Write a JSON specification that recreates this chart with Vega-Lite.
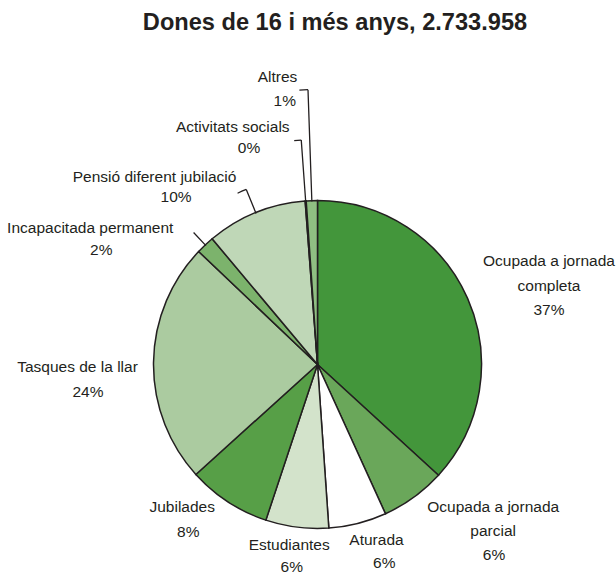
{
  "$schema": "https://vega.github.io/schema/vega-lite/v6.json",
  "width": 597,
  "height": 419,
  "autosize": "none",
  "padding": {"left": 19, "top": 155, "right": 0, "bottom": 0},
  "background": "white",
  "title": {
    "text": "Dones de 16 i més anys, 2.733.958",
    "font": "Liberation Sans",
    "fontSize": 23.6,
    "fontWeight": "bold",
    "color": "#231f20",
    "anchor": "middle",
    "frame": "group",
    "offset": 35,
    "dx": 17.5
  },
  "config": {
    "view": {"stroke": null},
    "text": {"font": "Liberation Sans", "fontSize": 15.5, "color": "#231f20", "lineBreak": "\n", "baseline": "middle", "align": "center"}
  },
  "data": {
    "values": [
      {"o": 1, "cat": "Ocupada a jornada completa", "name": "Ocupada a jornada\ncompleta", "pct": "37%", "value": 36.8},
      {"o": 2, "cat": "Ocupada a jornada parcial", "name": "Ocupada a jornada\nparcial", "pct": "6%", "value": 6.4},
      {"o": 3, "cat": "Aturada", "name": "Aturada", "pct": "6%", "value": 5.7},
      {"o": 4, "cat": "Estudiantes", "name": "Estudiantes", "pct": "6%", "value": 6.2},
      {"o": 5, "cat": "Jubilades", "name": "Jubilades", "pct": "8%", "value": 8.2},
      {"o": 6, "cat": "Tasques de la llar", "name": "Tasques de la llar", "pct": "24%", "value": 23.8},
      {"o": 7, "cat": "Incapacitada permanent", "name": "Incapacitada permanent", "pct": "2%", "value": 1.8},
      {"o": 8, "cat": "Pensió diferent jubilació", "name": "Pensió diferent jubilació", "pct": "10%", "value": 9.9},
      {"o": 9, "cat": "Activitats socials", "name": "Activitats socials", "pct": "0%", "value": 0.1},
      {"o": 10, "cat": "Altres", "name": "Altres", "pct": "1%", "value": 1.1}
    ]
  },
  "transform": [
    {"stack": "value", "groupby": [], "sort": [{"field": "o", "order": "ascending"}], "as": ["v0", "v1"]},
    {"calculate": "(datum.v0 + datum.v1) / 2", "as": "mid"}
  ],
  "layer": [
    {
      "mark": {"type": "arc", "radius": 164, "stroke": "#231f20", "strokeWidth": 1.5},
      "encoding": {
        "theta": {"field": "v0", "type": "quantitative", "stack": null, "scale": {"domain": [0, 100]}},
        "theta2": {"field": "v1"},
        "color": {
          "field": "cat", "type": "nominal", "legend": null,
          "scale": {
            "domain": ["Ocupada a jornada completa", "Ocupada a jornada parcial", "Aturada", "Estudiantes", "Jubilades", "Tasques de la llar", "Incapacitada permanent", "Pensió diferent jubilació", "Activitats socials", "Altres"],
            "range": ["#43963b", "#6aa75a", "#ffffff", "#d3e3cb", "#579f47", "#abcba0", "#7cb36c", "#bfd7b7", "#9fc692", "#8fbf82"]
          }
        }
      }
    },
    {
      "transform": [{"filter": "datum.o == 10"}],
      "mark": {"type": "arc", "radius": 275, "radius2": 163, "filled": false, "stroke": "#231f20", "strokeWidth": 1.3},
      "encoding": {"theta": {"field": "mid", "type": "quantitative", "stack": null, "scale": {"domain": [0, 100]}}, "theta2": {"field": "mid"}}
    },
    {
      "transform": [{"filter": "datum.o == 10"}, {"calculate": "datum.mid - 0.5", "as": "t0"}],
      "mark": {"type": "arc", "radius": 275, "radius2": 275, "filled": false, "stroke": "#231f20", "strokeWidth": 1.3},
      "encoding": {"theta": {"field": "t0", "type": "quantitative", "stack": null, "scale": {"domain": [0, 100]}}, "theta2": {"field": "mid"}}
    },
    {
      "transform": [{"filter": "datum.o == 9"}],
      "mark": {"type": "arc", "radius": 225, "radius2": 163, "filled": false, "stroke": "#231f20", "strokeWidth": 1.3},
      "encoding": {"theta": {"field": "mid", "type": "quantitative", "stack": null, "scale": {"domain": [0, 100]}}, "theta2": {"field": "mid"}}
    },
    {
      "transform": [{"filter": "datum.o == 9"}, {"calculate": "datum.mid - 0.5", "as": "t0"}],
      "mark": {"type": "arc", "radius": 225, "radius2": 225, "filled": false, "stroke": "#231f20", "strokeWidth": 1.3},
      "encoding": {"theta": {"field": "t0", "type": "quantitative", "stack": null, "scale": {"domain": [0, 100]}}, "theta2": {"field": "mid"}}
    },
    {
      "transform": [{"filter": "datum.o == 8"}],
      "mark": {"type": "arc", "radius": 189, "radius2": 163, "filled": false, "stroke": "#231f20", "strokeWidth": 1.3},
      "encoding": {"theta": {"field": "mid", "type": "quantitative", "stack": null, "scale": {"domain": [0, 100]}}, "theta2": {"field": "mid"}}
    },
    {
      "transform": [{"filter": "datum.o == 8"}, {"calculate": "datum.mid - 0.8", "as": "t0"}],
      "mark": {"type": "arc", "radius": 189, "radius2": 189, "filled": false, "stroke": "#231f20", "strokeWidth": 1.3},
      "encoding": {"theta": {"field": "t0", "type": "quantitative", "stack": null, "scale": {"domain": [0, 100]}}, "theta2": {"field": "mid"}}
    },
    {
      "transform": [{"filter": "datum.o == 7"}],
      "mark": {"type": "arc", "radius": 181, "radius2": 163, "filled": false, "stroke": "#231f20", "strokeWidth": 1.3},
      "encoding": {"theta": {"field": "mid", "type": "quantitative", "stack": null, "scale": {"domain": [0, 100]}}, "theta2": {"field": "mid"}}
    },
    {"transform": [{"filter": "datum.o == 1"}], "mark": {"type": "text", "radius": 240, "dx": 11.8, "dy": -6.5, "lineHeight": 24.5}, "encoding": {"theta": {"field": "mid", "type": "quantitative", "stack": null, "scale": {"domain": [0, 100]}}, "text": {"field": "name"}}},
    {"transform": [{"filter": "datum.o == 1"}], "mark": {"type": "text", "radius": 240, "dx": 11.8, "dy": 42.1}, "encoding": {"theta": {"field": "mid", "type": "quantitative", "stack": null, "scale": {"domain": [0, 100]}}, "text": {"field": "pct"}}},
    {"transform": [{"filter": "datum.o == 2"}], "mark": {"type": "text", "radius": 230, "dx": 40.5, "dy": -44, "lineHeight": 24}, "encoding": {"theta": {"field": "mid", "type": "quantitative", "stack": null, "scale": {"domain": [0, 100]}}, "text": {"field": "name"}}},
    {"transform": [{"filter": "datum.o == 2"}], "mark": {"type": "text", "radius": 230, "dx": 41.3, "dy": 4.4}, "encoding": {"theta": {"field": "mid", "type": "quantitative", "stack": null, "scale": {"domain": [0, 100]}}, "text": {"field": "pct"}}},
    {"transform": [{"filter": "datum.o == 3"}], "mark": {"type": "text", "radius": 190, "dx": 12.3, "dy": -8.7}, "encoding": {"theta": {"field": "mid", "type": "quantitative", "stack": null, "scale": {"domain": [0, 100]}}, "text": {"field": "name"}}},
    {"transform": [{"filter": "datum.o == 3"}], "mark": {"type": "text", "radius": 190, "dx": 20.1, "dy": 14.3}, "encoding": {"theta": {"field": "mid", "type": "quantitative", "stack": null, "scale": {"domain": [0, 100]}}, "text": {"field": "pct"}}},
    {"transform": [{"filter": "datum.o == 4"}], "mark": {"type": "text", "radius": 190, "dx": -4.5, "dy": -8}, "encoding": {"theta": {"field": "mid", "type": "quantitative", "stack": null, "scale": {"domain": [0, 100]}}, "text": {"field": "name"}}},
    {"transform": [{"filter": "datum.o == 4"}], "mark": {"type": "text", "radius": 190, "dx": -1.9, "dy": 14}, "encoding": {"theta": {"field": "mid", "type": "quantitative", "stack": null, "scale": {"domain": [0, 100]}}, "text": {"field": "pct"}}},
    {"transform": [{"filter": "datum.o == 5"}], "mark": {"type": "text", "radius": 200, "dx": -26, "dy": -24.7}, "encoding": {"theta": {"field": "mid", "type": "quantitative", "stack": null, "scale": {"domain": [0, 100]}}, "text": {"field": "name"}}},
    {"transform": [{"filter": "datum.o == 5"}], "mark": {"type": "text", "radius": 200, "dx": -19.9, "dy": 0.3}, "encoding": {"theta": {"field": "mid", "type": "quantitative", "stack": null, "scale": {"domain": [0, 100]}}, "text": {"field": "pct"}}},
    {"transform": [{"filter": "datum.o == 6"}], "mark": {"type": "text", "radius": 235, "dx": -5, "dy": 5.5}, "encoding": {"theta": {"field": "mid", "type": "quantitative", "stack": null, "scale": {"domain": [0, 100]}}, "text": {"field": "name"}}},
    {"transform": [{"filter": "datum.o == 6"}], "mark": {"type": "text", "radius": 235, "dx": 5.5, "dy": 30.5}, "encoding": {"theta": {"field": "mid", "type": "quantitative", "stack": null, "scale": {"domain": [0, 100]}}, "text": {"field": "pct"}}},
    {"transform": [{"filter": "datum.o == 7"}], "mark": {"type": "text", "radius": 250, "dx": -56.1, "dy": 45.8}, "encoding": {"theta": {"field": "mid", "type": "quantitative", "stack": null, "scale": {"domain": [0, 100]}}, "text": {"field": "name"}}},
    {"transform": [{"filter": "datum.o == 7"}], "mark": {"type": "text", "radius": 250, "dx": -45.1, "dy": 67.8}, "encoding": {"theta": {"field": "mid", "type": "quantitative", "stack": null, "scale": {"domain": [0, 100]}}, "text": {"field": "pct"}}},
    {"transform": [{"filter": "datum.o == 8"}], "mark": {"type": "text", "radius": 235, "dx": -74.4, "dy": 30.2}, "encoding": {"theta": {"field": "mid", "type": "quantitative", "stack": null, "scale": {"domain": [0, 100]}}, "text": {"field": "name"}}},
    {"transform": [{"filter": "datum.o == 8"}], "mark": {"type": "text", "radius": 235, "dx": -52.9, "dy": 50.2}, "encoding": {"theta": {"field": "mid", "type": "quantitative", "stack": null, "scale": {"domain": [0, 100]}}, "text": {"field": "pct"}}},
    {"transform": [{"filter": "datum.o == 9"}], "mark": {"type": "text", "radius": 235, "dx": -67.8, "dy": -3.1}, "encoding": {"theta": {"field": "mid", "type": "quantitative", "stack": null, "scale": {"domain": [0, 100]}}, "text": {"field": "name"}}},
    {"transform": [{"filter": "datum.o == 9"}], "mark": {"type": "text", "radius": 235, "dx": -51.5, "dy": 17.9}, "encoding": {"theta": {"field": "mid", "type": "quantitative", "stack": null, "scale": {"domain": [0, 100]}}, "text": {"field": "pct"}}},
    {"transform": [{"filter": "datum.o == 10"}], "mark": {"type": "text", "radius": 280, "dx": -30.3, "dy": -7.7}, "encoding": {"theta": {"field": "mid", "type": "quantitative", "stack": null, "scale": {"domain": [0, 100]}}, "text": {"field": "name"}}},
    {"transform": [{"filter": "datum.o == 10"}], "mark": {"type": "text", "radius": 280, "dx": -23.1, "dy": 16.3}, "encoding": {"theta": {"field": "mid", "type": "quantitative", "stack": null, "scale": {"domain": [0, 100]}}, "text": {"field": "pct"}}}
  ]
}
